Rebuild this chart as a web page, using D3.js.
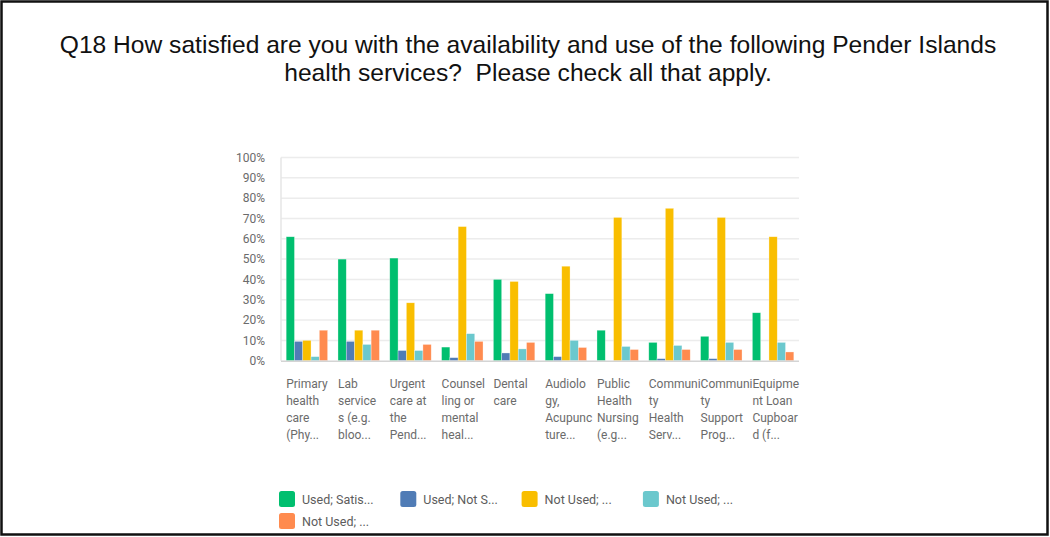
<!DOCTYPE html>
<html>
<head>
<meta charset="utf-8">
<script src="https://cdn.jsdelivr.net/npm/d3@7"></script>
<style>
  body { margin: 0; background: #fff; }
  svg { display: block; }
</style>
</head>
<body>
<svg id="chart" width="1050" height="537"></svg>
<script>
(function (d3) {

  var titleLines = [
    'Q18 How satisfied are you with the availability and use of the following Pender Islands',
    'health services?  Please check all that apply.'
  ];

  // category labels, wrapped and cut the way the survey tool shows them
  var categories = [
    ['Primary', 'health', 'care', '(Phy...'],
    ['Lab', 'service', 's (e.g.', 'bloo...'],
    ['Urgent', 'care at', 'the', 'Pend...'],
    ['Counsel', 'ling or', 'mental', 'heal...'],
    ['Dental', 'care'],
    ['Audiolo', 'gy,', 'Acupunc', 'ture...'],
    ['Public', 'Health', 'Nursing', '(e.g...'],
    ['Communi', 'ty', 'Health', 'Serv...'],
    ['Communi', 'ty', 'Support', 'Prog...'],
    ['Equipme', 'nt Loan', 'Cupboar', 'd (f...']
  ];

  var seriesNames = ['Used; Satis...', 'Used; Not S...', 'Not Used; ...', 'Not Used; ...', 'Not Used; ...'];
  var seriesColors = ['#00bf6f', '#507cb6', '#f9be00', '#6bc8cd', '#ff8b4f'];

  var usedSatisfied    = [61, 50, 50.5, 6.7, 40, 33, 15, 9, 12, 23.6];
  var usedNotSatisfied = [9.5, 9.5, 5, 1.5, 3.8, 2, 0, 1, 1, 0];
  var notUsedA         = [10, 15, 28.5, 66, 39, 46.5, 70.5, 75, 70.5, 61];
  var notUsedB         = [2, 8, 5, 13.3, 5.8, 10, 7, 7.5, 9, 9];
  var notUsedC         = [15, 15, 8, 9.5, 9, 6.5, 5.5, 5.5, 5.5, 4.3];

  var series = [usedSatisfied, usedNotSatisfied, notUsedA, notUsedB, notUsedC];
  var yTicks = [0, 10, 20, 30, 40, 50, 60, 70, 80, 90, 100];

  var svg = d3.select('#chart');

  var PLOT_LEFT = 281;
  var PLOT_RIGHT = 799;
  var PLOT_TOP = 157.5;
  var PLOT_BOTTOM = 360.7;

  // frame
  svg.append('rect')
      .attr('x', 1.5).attr('y', 1.5)
      .attr('width', 1046).attr('height', 533)
      .attr('fill', 'none')
      .attr('stroke', '#111')
      .attr('stroke-width', 2.5);

  svg.append('g').selectAll('text')
      .data(titleLines)
      .enter().append('text')
      .attr('x', 528)
      .attr('y', function (d, i) { return 52.5 + i * 28.5; })
      .attr('text-anchor', 'middle')
      .attr('font-family', '"Liberation Sans", Arial, sans-serif')
      .attr('font-size', 24.6)
      .attr('fill', '#111')
      .attr('xml:space', 'preserve')
      .style('white-space', 'pre')
      .text(function (d) { return d; });

  var x = d3.scaleBand()
      .domain(d3.range(categories.length))
      .range([PLOT_LEFT, PLOT_RIGHT])
      .paddingInner(0.2)
      .paddingOuter(0.1);

  var xInner = d3.scaleBand()
      .domain(d3.range(series.length))
      .range([0, x.bandwidth()]);

  var y = d3.scaleLinear()
      .domain([0, 100])
      .range([PLOT_BOTTOM, PLOT_TOP]);

  // gridlines
  svg.append('g').selectAll('line')
      .data(yTicks.slice(1))
      .enter().append('line')
      .attr('x1', PLOT_LEFT).attr('x2', PLOT_RIGHT)
      .attr('y1', function (d) { return y(d); })
      .attr('y2', function (d) { return y(d); })
      .attr('stroke', '#ececec')
      .attr('stroke-width', 1.5);

  svg.append('line')
      .attr('x1', PLOT_LEFT).attr('x2', PLOT_LEFT)
      .attr('y1', PLOT_TOP).attr('y2', PLOT_BOTTOM)
      .attr('stroke', '#e6e6e6')
      .attr('stroke-width', 1.5);

  var yAxis = svg.append('g')
      .attr('transform', 'translate(' + (PLOT_LEFT - 16) + ',0)')
      .call(d3.axisLeft(y).tickValues(yTicks).tickSize(0).tickPadding(0)
        .tickFormat(function (d) { return d + '%'; }));
  yAxis.select('.domain').remove();
  yAxis.selectAll('text')
      .attr('font-family', 'Roboto, "Open Sans", sans-serif')
      .attr('font-size', 12)
      .attr('fill', '#6b6b6b');

  // bars
  var groups = svg.append('g').selectAll('g')
      .data(categories)
      .enter().append('g')
      .attr('transform', function (d, i) { return 'translate(' + x(i) + ',0)'; });

  groups.selectAll('rect')
      .data(function (d, i) { return series.map(function (s) { return s[i]; }); })
      .enter().append('rect')
      .attr('x', function (d, j) { return xInner(j); })
      .attr('y', function (d) { return y(d); })
      .attr('width', xInner.bandwidth())
      .attr('height', function (d) { return y(0) - y(d); })
      .attr('fill', function (d, j) { return seriesColors[j]; })
      .attr('stroke', 'rgba(255,255,255,0.5)')
      .attr('stroke-width', 0.6);

  // bottom axis line
  svg.append('line')
      .attr('x1', PLOT_LEFT).attr('x2', PLOT_RIGHT)
      .attr('y1', PLOT_BOTTOM + 0.5).attr('y2', PLOT_BOTTOM + 0.5)
      .attr('stroke', '#d4d4d4')
      .attr('stroke-width', 1.5);

  // category labels
  groups.append('text')
      .attr('font-family', 'Roboto, "Open Sans", sans-serif')
      .attr('font-size', 12)
      .attr('fill', '#6b6b6b')
      .selectAll('tspan')
      .data(function (d) { return d; })
      .enter().append('tspan')
      .attr('x', 0)
      .attr('y', function (d, i) { return 388 + i * 17; })
      .text(function (d) { return d; });

  // legend
  var legend = svg.append('g').selectAll('g')
      .data(seriesNames)
      .enter().append('g')
      .attr('transform', function (d, i) {
        return 'translate(' + (279 + (i % 4) * 121.3) + ',' + (491 + Math.floor(i / 4) * 22) + ')';
      });

  legend.append('rect')
      .attr('width', 16).attr('height', 16)
      .attr('rx', 2.5)
      .attr('fill', function (d, i) { return seriesColors[i]; });

  legend.append('text')
      .attr('x', 23)
      .attr('y', 13)
      .attr('font-family', 'Roboto, "Open Sans", sans-serif')
      .attr('font-size', 12.5)
      .attr('fill', '#5c5c5c')
      .text(function (d) { return d; });

})(d3);
</script>
</body>
</html>
